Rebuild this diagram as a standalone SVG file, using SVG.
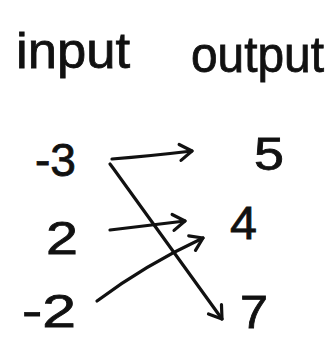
<svg xmlns="http://www.w3.org/2000/svg" width="335" height="339" viewBox="0 0 335 339">
<style>
.t{font-family:"Liberation Sans",Arial,sans-serif;fill:#111;stroke:#111;stroke-width:0.8;}
.h{font-size:50px;}
.n{font-size:46px;}
.c{fill:none;stroke:#111;stroke-width:3.2;stroke-linecap:round;stroke-linejoin:round;}
</style>
<defs>
<marker id="ah" markerUnits="userSpaceOnUse" markerWidth="30" markerHeight="30" refX="0" refY="0" viewBox="-15 -15 30 30" orient="auto" overflow="visible">
<path d="M-12,-8 L0,0 L-12,8" fill="none" stroke="#111" stroke-width="3.2" stroke-linecap="round" stroke-linejoin="round"/>
</marker>
</defs>
<rect width="335" height="339" fill="#fff"/>
<g id="header-input"><text class="t h" x="16" y="68" textLength="114" lengthAdjust="spacingAndGlyphs">input</text></g>
<g id="header-output"><text class="t h" x="191" y="72" textLength="133" lengthAdjust="spacingAndGlyphs">output</text></g>
<g id="in-neg3"><text class="t n" x="35" y="176" textLength="41" lengthAdjust="spacingAndGlyphs">-3</text></g>
<g id="in-2"><text class="t n" x="46" y="254" font-size="52" textLength="32" lengthAdjust="spacingAndGlyphs">2</text></g>
<g id="in-neg2"><text class="t n" x="22" y="327" font-size="40" textLength="54" lengthAdjust="spacingAndGlyphs">-2</text></g>
<g id="out-5"><text class="t n" x="254" y="170" font-size="42" textLength="30" lengthAdjust="spacingAndGlyphs">5</text></g>
<g id="out-4"><text class="t n" x="230" y="239" textLength="27" lengthAdjust="spacingAndGlyphs">4</text></g>
<g id="out-7"><text class="t n" x="240" y="328" textLength="28" lengthAdjust="spacingAndGlyphs">7</text></g>
<g id="connectors">
<path class="c" d="M112,159 Q150,156 192,151" marker-end="url(#ah)"/>
<path class="c" d="M110,230 L185,221" marker-end="url(#ah)"/>
<path class="c" d="M97,301 Q145,265 203,238" marker-end="url(#ah)"/>
<path class="c" d="M110,164 L113,168 L222,319" marker-end="url(#ah)"/>
</g>
</svg>
